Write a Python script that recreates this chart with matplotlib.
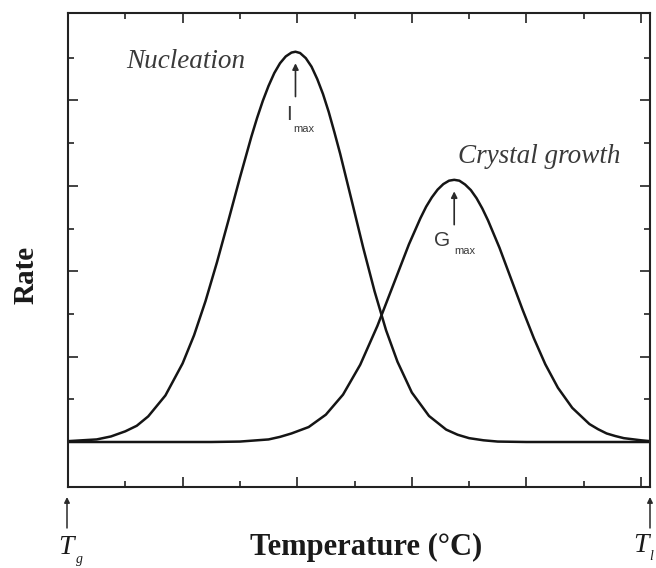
import matplotlib
matplotlib.use("Agg")
import matplotlib.pyplot as plt
from matplotlib.ticker import FixedLocator
from matplotlib.patches import FancyArrowPatch

# ---- data (arbitrary units) ----
nucleation_T = [0.0, 0.5, 0.75, 1.0, 1.2, 1.4, 1.7, 2.0, 2.2, 2.4, 2.6, 2.8, 3.0,
                3.2, 3.3, 3.4, 3.5, 3.6, 3.7, 3.8, 3.9, 3.97, 4.05, 4.15, 4.25,
                4.35, 4.45, 4.55, 4.65, 4.75, 4.95, 5.15, 5.35, 5.55, 5.75, 6.0,
                6.3, 6.6, 6.8, 7.0, 7.25, 7.5, 8.0, 10.16]
nucleation_rate = [0.02, 0.06, 0.13, 0.25, 0.38, 0.60, 1.09, 1.84, 2.50, 3.30, 4.21,
                   5.19, 6.19, 7.15, 7.59, 7.99, 8.34, 8.64, 8.87, 9.03, 9.12, 9.14,
                   9.11, 8.99, 8.79, 8.50, 8.15, 7.73, 7.25, 6.75, 5.66, 4.56, 3.53,
                   2.62, 1.88, 1.16, 0.61, 0.29, 0.17, 0.09, 0.04, 0.01, 0.0, 0.0]

growth_T = [0.0, 2.5, 3.0, 3.5, 3.7, 3.9, 4.2, 4.5, 4.8, 5.1, 5.4, 5.7, 5.95, 6.15,
            6.25, 6.35, 6.45, 6.55, 6.65, 6.74, 6.83, 6.93, 7.03, 7.13, 7.23, 7.33,
            7.53, 7.73, 7.93, 8.13, 8.33, 8.55, 8.8, 9.1, 9.25, 9.4, 9.55, 9.7,
            10.0, 10.16]
growth_rate = [0.0, 0.0, 0.01, 0.06, 0.12, 0.20, 0.35, 0.64, 1.11, 1.81, 2.72, 3.76,
               4.63, 5.24, 5.51, 5.73, 5.91, 6.04, 6.12, 6.14, 6.12, 6.03, 5.90,
               5.71, 5.47, 5.19, 4.55, 3.83, 3.11, 2.43, 1.82, 1.27, 0.80, 0.42,
               0.30, 0.20, 0.14, 0.09, 0.04, 0.02]

peak_I = (3.97, 9.14)
peak_G = (6.74, 6.14)

x_major = [2, 4, 6, 8, 10]
x_minor = [1, 3, 5, 7, 9]
y_major = [0, 2, 4, 6, 8]
y_minor = [1, 3, 5, 7, 9]

W, H = 656, 568
fig = plt.figure(figsize=(W / 100, H / 100), dpi=100)
ax = fig.add_axes([68 / W, 1 - 487 / H, (650 - 68) / W, (487 - 13) / H])

line_col = "#151515"
ax.plot(nucleation_T, nucleation_rate, color=line_col, lw=1.8,
        solid_joinstyle="round", solid_capstyle="round")
ax.plot(growth_T, growth_rate, color=line_col, lw=1.8,
        solid_joinstyle="round", solid_capstyle="round")

ax.set_xlim(0, 10.157)
ax.set_ylim(-1.054, 10.047)

ax.xaxis.set_major_locator(FixedLocator(x_major))
ax.xaxis.set_minor_locator(FixedLocator(x_minor))
ax.yaxis.set_major_locator(FixedLocator(y_major))
ax.yaxis.set_minor_locator(FixedLocator(y_minor))
ax.tick_params(which="both", direction="in", top=True, right=True,
               labelbottom=False, labelleft=False, color="#222222")
ax.tick_params(which="major", length=7, width=1.2)
ax.tick_params(which="minor", length=4, width=1.2)
for s in ax.spines.values():
    s.set_linewidth(1.5)
    s.set_color("#222222")

serif = ["Liberation Serif", "DejaVu Serif"]
sans = ["Liberation Sans", "DejaVu Sans"]
txt_col = "#3a3a3a"


def px(x, y):
    return x / W, 1 - y / H


# curve labels
fig.text(*px(186, 62), "Nucleation", family=serif, style="italic", fontsize=19.5,
         color=txt_col, ha="center", va="center")
fig.text(*px(539, 156), "Crystal growth", family=serif, style="italic", fontsize=19.5,
         color=txt_col, ha="center", va="center")

# peak arrows
arrow_kw = dict(arrowstyle="-|>", lw=1.2, color="#2a2a2a", mutation_scale=9,
                shrinkA=0, shrinkB=0)
ax.annotate("", xy=(peak_I[0], peak_I[1] - 0.27), xytext=(peak_I[0], peak_I[1] - 1.05),
            arrowprops=arrow_kw)
ax.annotate("", xy=(peak_G[0], peak_G[1] - 0.27), xytext=(peak_G[0], peak_G[1] - 1.05),
            arrowprops=arrow_kw)

# I_max / G_max labels
fig.text(*px(289, 115), "I", family=sans, fontsize=15, color=txt_col,
         ha="center", va="center")
fig.text(*px(304, 129), "max", family=sans, fontsize=8, color=txt_col,
         ha="center", va="center")
fig.text(*px(442, 240), "G", family=sans, fontsize=15, color=txt_col,
         ha="center", va="center")
fig.text(*px(465, 251), "max", family=sans, fontsize=8, color=txt_col,
         ha="center", va="center")

# axis labels
fig.text(*px(366, 547), "Temperature (°C)", family=serif, weight="bold", fontsize=22,
         color="#1a1a1a", ha="center", va="center")
fig.text(*px(26, 275), "Rate", family=serif, weight="bold", fontsize=21,
         color="#1a1a1a", ha="center", va="center", rotation=90)

# Tg and Tl markers
tk = dict(arrowstyle="-|>", lw=1.1, color="#2a2a2a", mutation_scale=8,
          shrinkA=0, shrinkB=0)
fig.add_artist(FancyArrowPatch(px(67, 528), px(67, 497),
                               transform=fig.transFigure, **tk))
fig.add_artist(FancyArrowPatch(px(650, 528), px(650, 497),
                               transform=fig.transFigure, **tk))
fig.text(*px(66, 548), "T", family=serif, style="italic", fontsize=20,
         color="#1a1a1a", ha="center", va="center")
fig.text(*px(79, 559), "g", family=serif, style="italic", fontsize=10,
         color="#1a1a1a", ha="center", va="center")
fig.text(*px(641, 546), "T", family=serif, style="italic", fontsize=20,
         color="#1a1a1a", ha="center", va="center")
fig.text(*px(651, 557), "l", family=serif, style="italic", fontsize=10,
         color="#1a1a1a", ha="center", va="center")

fig.savefig("out.png", dpi=100, facecolor="white")
